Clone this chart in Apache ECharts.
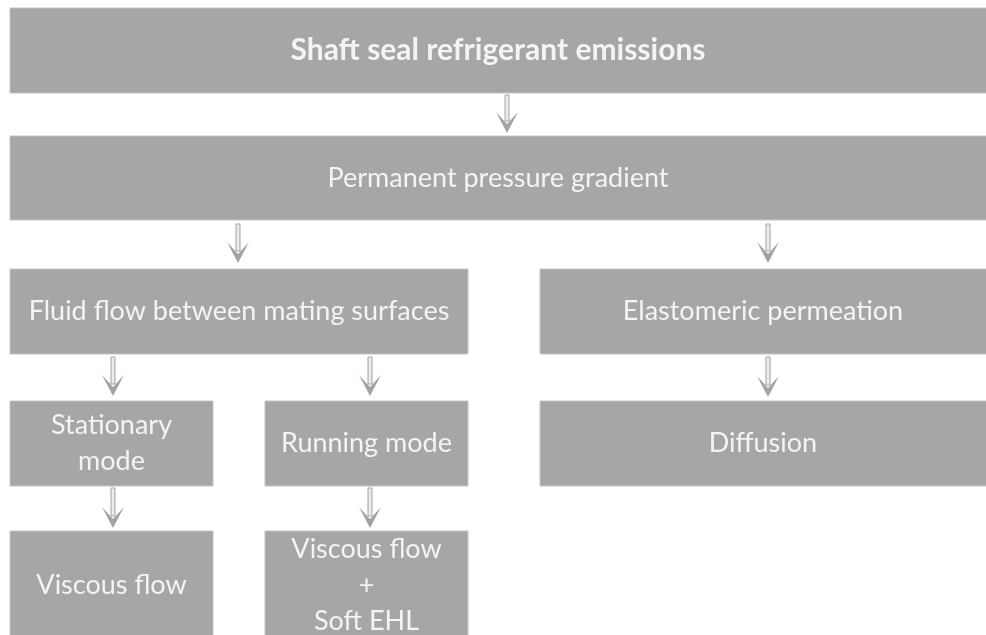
<!DOCTYPE html>
<html>
<head>
<meta charset="utf-8">
<script src="https://cdn.jsdelivr.net/npm/echarts@6/dist/echarts.min.js"></script>
<style>
  html, body { margin: 0; padding: 0; background: #fff; }
  #main { width: 986px; height: 635px; }
</style>
</head>
<body>
<div id="main"></div>
<script>
// boxes of the flow chart (page units, y grows downwards)
const boxLabels = [
  'Shaft seal refrigerant emissions',
  'Permanent pressure gradient',
  'Fluid flow between mating surfaces',
  'Elastomeric permeation',
  'Stationary\nmode',
  'Running mode',
  'Diffusion',
  'Viscous flow',
  'Viscous flow\n+\nSoft EHL'
];
const boxLeft   = [10, 10, 10, 540, 10, 265, 540, 10, 265];
const boxRight  = [990, 990, 468, 990, 213, 468, 990, 213, 468];
const boxTop    = [8, 136, 269, 269, 401, 401, 401, 531, 531];
const boxBottom = [93, 220, 354, 354, 486, 486, 486, 640, 640];
const boxBold   = [true, false, false, false, false, false, false, false, false];

// arrows: x, shaft top, tip
const arrowX   = [507, 238, 768, 113, 370, 768, 113, 370];
const arrowTop = [95, 224, 224, 357, 357, 357, 488, 488];
const arrowTip = [133, 263, 263, 396, 396, 397, 528, 528];

const boxFill = '#a6a6a6';
const arrowColor = '#a3a3a3';
const textColor = '#f4f4f4';

const boxData = boxLabels.map((label, i) =>
  [boxLeft[i], boxTop[i], boxRight[i], boxBottom[i], label, boxBold[i] ? 1 : 0]);
const arrowData = arrowX.map((x, i) => [x, arrowTop[i], arrowTip[i]]);

const chart = echarts.init(document.getElementById('main'));

chart.setOption({
  animation: false,
  grid: { left: 0, right: 0, top: 0, bottom: 0 },
  xAxis: { type: 'value', min: 0, max: 986, show: false },
  yAxis: { type: 'value', min: 0, max: 635, inverse: true, show: false },
  series: [
    {
      type: 'custom',
      data: boxData,
      renderItem: function (params, api) {
        const p0 = api.coord([api.value(0), api.value(1)]);
        const p1 = api.coord([api.value(2), api.value(3)]);
        const label = boxData[params.dataIndex][4];
        const bold = api.value(5) === 1;
        return {
          type: 'group',
          children: [
            {
              type: 'rect',
              shape: { x: p0[0], y: p0[1], width: p1[0] - p0[0], height: p1[1] - p0[1] },
              style: { fill: boxFill, stroke: '#c4c4c4', lineWidth: 1 }
            },
            {
              type: 'text',
              x: (p0[0] + Math.min(p1[0], 986)) / 2,
              y: (p0[1] + Math.min(p1[1], 639)) / 2,
              style: {
                text: label,
                fill: textColor,
                font: bold ? 'bold 30px Lato, "Open Sans", sans-serif'
                           : '27px Lato, "Open Sans", sans-serif',
                align: 'center',
                verticalAlign: 'middle',
                lineHeight: 36
              }
            }
          ]
        };
      }
    },
    {
      type: 'custom',
      data: arrowData,
      renderItem: function (params, api) {
        const top = api.coord([api.value(0), api.value(1)]);
        const tip = api.coord([api.value(0), api.value(2)]);
        const x = top[0];
        return {
          type: 'group',
          children: [
            {
              type: 'rect',
              shape: { x: x - 2, y: top[1], width: 4, height: tip[1] - top[1] - 12 },
              style: { fill: '#ececec', stroke: arrowColor, lineWidth: 1 }
            },
            {
              type: 'polygon',
              shape: {
                points: [
                  [x - 11, tip[1] - 21],
                  [x, tip[1] - 9],
                  [x + 11, tip[1] - 21],
                  [x, tip[1]]
                ]
              },
              style: { fill: arrowColor }
            }
          ]
        };
      }
    }
  ]
});
</script>
</body>
</html>
